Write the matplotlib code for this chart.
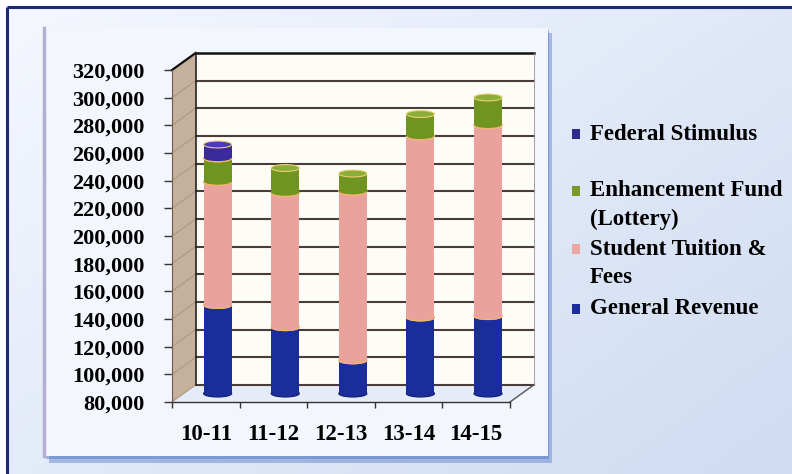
import matplotlib
matplotlib.use('Agg')
import matplotlib.pyplot as plt
from matplotlib.patches import Rectangle, Ellipse, Polygon
import numpy as np

years = ['10-11', '11-12', '12-13', '13-14', '14-15']
general_revenue = [144000, 128000, 104000, 135000, 136000]
tuition = [89000, 97000, 122000, 131000, 138000]
enhancement = [17000, 18000, 13000, 16000, 20000]
federal = [10000, 0, 0, 0, 0]

series_names = ['Federal Stimulus', 'Enhancement Fund\n(Lottery)', 'Student Tuition &\nFees', 'General Revenue']

y_min, y_max, y_step = 80000, 320000, 20000

serif = 'Liberation Serif'

fig = plt.figure(figsize=(7.92, 4.74), dpi=100)
fig.patch.set_facecolor('white')

# background in pixel coords
bg = fig.add_axes([0, 0, 1, 1])
bg.set_xlim(0, 792)
bg.set_ylim(474, 0)
bg.set_axis_off()

gx = np.linspace(0, 1, 200)[None, :]
gy = np.linspace(0, 1, 120)[:, None]
t = np.clip(0.55 * gx + 0.45 * gy, 0, 1)[..., None]
c0 = np.array([0.96, 0.97, 0.995])
c1 = np.array([0.81, 0.86, 0.95])
grad = c0 * (1 - t) + c1 * t
bg.imshow(grad, extent=(8, 792, 474, 8), aspect='auto', zorder=0)
bg.plot([7, 792], [7, 7], color='#1b2a7a', lw=2.2, zorder=1, solid_capstyle='butt')
bg.plot([7, 7], [7, 474], color='#1b2a7a', lw=2.2, zorder=1, solid_capstyle='butt')

# chart panel with shadow
bg.add_patch(Rectangle((49, 33), 503, 430, facecolor='#6f8fd0', edgecolor='none', alpha=0.55, zorder=2))
bg.add_patch(Rectangle((46, 30), 503, 429, facecolor='#5a7cc6', edgecolor='none', alpha=0.5, zorder=2))
bg.add_patch(Rectangle((44, 28), 504, 428, facecolor='#f4f6fd', edgecolor='none', zorder=3))
bg.plot([44, 44], [28, 456], color='#b4aed0', lw=2.5, zorder=4)

# legend, one text per line so the marker sits beside the first line
legend_colors = ['#2f2b8e', '#7c9a2a', '#eaa8a0', '#1b2d9c']
legend_rows = [134, 191, 249, 309]
line_gap = 28.5
for name, col, yy in zip(series_names, legend_colors, legend_rows):
    bg.add_patch(Rectangle((572, yy - 5), 8, 10, facecolor=col, edgecolor='none', zorder=5))
    for j, line in enumerate(name.split('\n')):
        bg.text(590, yy + j * line_gap, line, fontsize=16.5, fontweight='bold', family=serif,
                va='center', ha='left', zorder=5)

ax = fig.add_axes([172 / 792, 72 / 474, 338 / 792, 332 / 474])
ax.set_xlim(-0.5, 4.5)
ax.set_ylim(y_min, y_max)
ax.patch.set_alpha(0)

DX = 0.35
DY = 12300
bw = 0.414
cap_h = 5000

n = len(years)
xl, xr = -0.5, n - 0.5

# walls and floor
ax.add_patch(Polygon([(xl, y_min), (xl + DX, y_min + DY), (xl + DX, y_max + DY), (xl, y_max)],
                     closed=True, facecolor='#c4b09b', edgecolor='none', zorder=1, clip_on=False))
ax.add_patch(Rectangle((xl + DX, y_min + DY), xr - xl, y_max - y_min, facecolor='#fdfcf7',
                       edgecolor='none', zorder=1, clip_on=False))
ax.add_patch(Polygon([(xl, y_min), (xr, y_min), (xr + DX, y_min + DY), (xl + DX, y_min + DY)],
                     closed=True, facecolor='#e5ecf8', edgecolor='none', zorder=1, clip_on=False))

ticks = np.arange(y_min, y_max + 1, y_step)
for v in ticks:
    lw = 1.8 if v == y_max else 1.5
    col = '#111111' if v == y_max else '#4a3c38'
    ax.plot([xl + DX, xr + DX], [v + DY, v + DY], color=col, lw=lw, zorder=2, clip_on=False)
    ax.plot([xl, xl + DX], [v, v + DY], color='#111111' if v == y_max else '#a89480',
            lw=1.6 if v == y_max else 0.7, zorder=2, clip_on=False)
ax.plot([xl + DX, xl + DX], [y_min + DY, y_max + DY], color='#222222', lw=1.2, zorder=2, clip_on=False)
ax.plot([xr + DX, xr + DX], [y_min + DY, y_max + DY], color='#9a9090', lw=0.6, zorder=2, clip_on=False)
ax.plot([xr, xr + DX], [y_min, y_min + DY], color='#555555', lw=1.0, zorder=2, clip_on=False)

# stacked cylinders
x = np.arange(n) + DX / 2
off = DY / 2
stack = [
    (general_revenue, '#1b2d9c', '#2a3db0'),
    (tuition, '#e9a39c', '#f0b8b0'),
    (enhancement, '#6f9420', '#8cae38'),
    (federal, '#3a2b9c', '#4b3cb0'),
]
bottoms = np.full(n, float(y_min))
for k, (vals, col, top_col) in enumerate(stack):
    vals = np.array(vals, dtype=float)
    if k == 0:
        vals = vals - y_min
    z = 3 + 3 * k
    mask = vals > 0
    ax.bar(x[mask], vals[mask], bottom=bottoms[mask] + off, width=bw, color=col,
           edgecolor='none', zorder=z + 1, clip_on=False)
    for i in np.where(mask)[0]:
        edge = '#14206e' if k == 0 else '#f3b46c'
        ax.add_patch(Ellipse((x[i], bottoms[i] + off), bw, cap_h, facecolor=col, edgecolor=edge,
                             lw=0.9, zorder=z, clip_on=False))
        ax.add_patch(Ellipse((x[i], bottoms[i] + vals[i] + off), bw, cap_h, facecolor=top_col,
                             edgecolor='#e8d070', lw=0.8, zorder=z + 2, clip_on=False))
    bottoms = bottoms + np.where(mask, vals, 0)

# axes, ticks, labels
for s in ['top', 'right']:
    ax.spines[s].set_visible(False)
ax.spines['left'].set_color('#6b5b50')
ax.spines['left'].set_linewidth(0.8)
ax.spines['bottom'].set_color('#333333')
ax.spines['bottom'].set_linewidth(1.0)
ax.spines['left'].set_zorder(2.5)
ax.spines['bottom'].set_zorder(2.5)

ax.set_yticks(ticks)
ax.set_yticklabels(['{:,}'.format(v) for v in ticks], fontsize=16, fontweight='bold', family=serif)
ax.tick_params(axis='y', length=6, width=1, color='#333333', pad=14)

ax.set_xticks(np.arange(-0.5, n, 1.0))
ax.set_xticklabels([])
ax.set_xticks(np.arange(n), minor=True)
ax.set_xticklabels(years, minor=True, fontsize=16.5, fontweight='bold', family=serif)
ax.tick_params(axis='x', which='major', length=4, width=1, color='#333333')
ax.tick_params(axis='x', which='minor', length=0, pad=16)

fig.savefig('out.png', dpi=100)
